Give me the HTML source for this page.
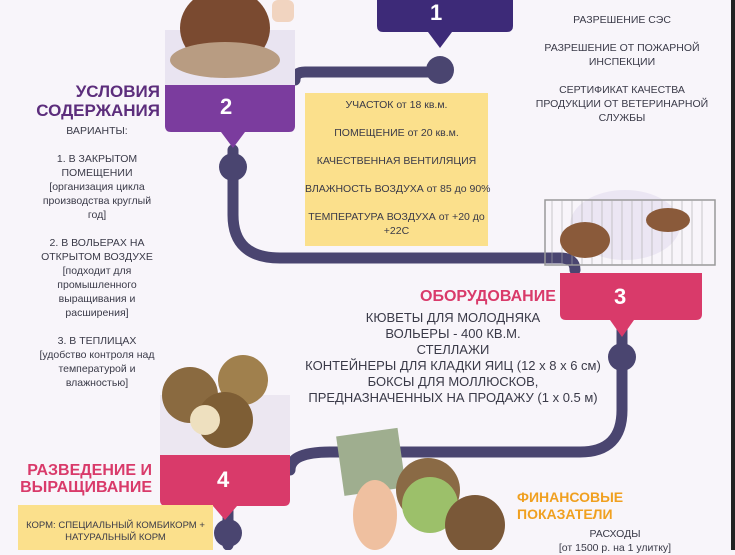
<!DOCTYPE html>
<html><head><meta charset="utf-8"><style>
body{margin:0;width:735px;height:550px;overflow:hidden;background:#f8f5fa;font-family:"Liberation Sans","Noto Sans CJK SC",sans-serif;position:relative}
.t{position:absolute;text-align:center;color:#3a3a48;font-size:10.5px;line-height:14px;white-space:nowrap}
.h{position:absolute;font-weight:bold;font-size:16px;line-height:17px;white-space:nowrap}
</style></head><body>
<svg width="735" height="550" style="position:absolute;left:0;top:0">
<rect x="731" y="0" width="4" height="550" fill="#222"/>
<g fill="none" stroke="#4a4570" stroke-width="11" stroke-linecap="round">
<path d="M295 80 Q295 72 305 72 L440 72"/>
<path d="M233 150 L233 215 Q233 258 280 258 L560 258 Q575 258 575 270"/>
<path d="M622 320 L622 410 Q622 452 580 452 L330 452 Q290 452 290 470"/>
<path d="M228 505 L228 545"/>
</g>
<circle cx="440" cy="70" r="14" fill="#4a4570"/>
<circle cx="233" cy="167" r="14" fill="#4a4570"/>
<circle cx="622" cy="357" r="14" fill="#4a4570"/>
<circle cx="228" cy="533" r="14" fill="#4a4570"/>
<path d="M377 0 H513 V26 Q513 32 507 32 H452 L440 48 L428 32 H383 Q377 32 377 26 Z" fill="#3d2a78"/>
<rect x="165" y="30" width="130" height="55" fill="#e9e4f1"/>
<ellipse cx="225" cy="28" rx="45" ry="40" fill="#7a4a30"/>
<ellipse cx="225" cy="60" rx="55" ry="18" fill="#b89c82"/>
<rect x="272" y="0" width="22" height="22" rx="6" fill="#f1d4c0"/>
<path d="M165 85 H295 V126 Q295 132 289 132 H245 L233 148 L221 132 H171 Q165 132 165 126 Z" fill="#7b3c9e"/>
<rect x="305" y="93" width="183" height="153" fill="#fbe08c"/>
<ellipse cx="625" cy="225" rx="55" ry="35" fill="#ebe6f3"/>
<rect x="545" y="200" width="170" height="65" fill="none" stroke="#999" stroke-width="1.5"/>
<g stroke="#aaa" stroke-width="0.6"><path d="M552 200V265M562 200V265M572 200V265M582 200V265M592 200V265M602 200V265M612 200V265M622 200V265M632 200V265M642 200V265M652 200V265M662 200V265M672 200V265M682 200V265M692 200V265M702 200V265"/></g>
<ellipse cx="585" cy="240" rx="25" ry="18" fill="#8a5a3a"/>
<ellipse cx="668" cy="220" rx="22" ry="12" fill="#8a5a3a"/>
<path d="M560 273 H702 V314 Q702 320 696 320 H634 L622 337 L610 320 H566 Q560 320 560 314 Z" fill="#d93a6a"/>
<rect x="160" y="395" width="130" height="65" fill="#ece7f1"/>
<circle cx="190" cy="395" r="28" fill="#8a6a40"/>
<circle cx="243" cy="380" r="25" fill="#a0804d"/>
<circle cx="225" cy="420" r="28" fill="#7e5e35"/>
<circle cx="205" cy="420" r="15" fill="#eee0bf"/>
<path d="M160 455 H290 V500 Q290 506 284 506 H237 L225 520 L213 506 H166 Q160 506 160 500 Z" fill="#d93a6a"/>
<rect x="18" y="505" width="195" height="45" fill="#fbe08c"/>
<rect x="340" y="432" width="62" height="60" fill="#9fae8f" transform="rotate(-8 370 462)"/>
<circle cx="428" cy="490" r="32" fill="#8a6a45"/>
<circle cx="430" cy="505" r="28" fill="#9cc06a"/>
<ellipse cx="375" cy="515" rx="22" ry="35" fill="#efc0a0"/>
<circle cx="475" cy="525" r="30" fill="#7a5838"/>
</svg>
<div style="position:absolute;left:430px;top:0;color:#fff;font-weight:bold;font-size:22px">1</div>
<div style="position:absolute;left:220px;top:94px;color:#fff;font-weight:bold;font-size:22px">2</div>
<div style="position:absolute;left:614px;top:284px;color:#fff;font-weight:bold;font-size:22px">3</div>
<div style="position:absolute;left:217px;top:467px;color:#fff;font-weight:bold;font-size:22px">4</div>
<div class="h" style="right:575px;top:82px;text-align:right;color:#5c2d7c;font-size:17px;line-height:19px">УСЛОВИЯ<br>СОДЕРЖАНИЯ</div>
<div class="t" style="left:22px;top:124px;width:150px">ВАРИАНТЫ:<br><br>1. В ЗАКРЫТОМ<br>ПОМЕЩЕНИИ<br>[организация цикла<br>производства круглый<br>год]<br><br>2. В ВОЛЬЕРАХ НА<br>ОТКРЫТОМ ВОЗДУХЕ<br>[подходит для<br>промышленного<br>выращивания и<br>расширения]<br><br>3. В ТЕПЛИЦАХ<br>[удобство контроля над<br>температурой и<br>влажностью]</div>
<div class="t" style="left:305px;top:98px;width:183px">УЧАСТОК от 18 кв.м.<br><br>ПОМЕЩЕНИЕ от 20 кв.м.<br><br>КАЧЕСТВЕННАЯ ВЕНТИЛЯЦИЯ<br><br>ВЛАЖНОСТЬ ВОЗДУХА от 85 до 90%<br><br>ТЕМПЕРАТУРА ВОЗДУХА от +20 до<br>+22С</div>
<div class="t" style="left:522px;top:13px;width:200px">РАЗРЕШЕНИЕ СЭС<br><br>РАЗРЕШЕНИЕ ОТ ПОЖАРНОЙ<br>ИНСПЕКЦИИ<br><br>СЕРТИФИКАТ КАЧЕСТВА<br>ПРОДУКЦИИ ОТ ВЕТЕРИНАРНОЙ<br>СЛУЖБЫ</div>
<div class="h" style="left:420px;top:288px;color:#d93a6a">ОБОРУДОВАНИЕ</div>
<div class="t" style="left:253px;top:310px;width:400px;font-size:13px;line-height:16px">КЮВЕТЫ ДЛЯ МОЛОДНЯКА<br>ВОЛЬЕРЫ - 400 КВ.М.<br>СТЕЛЛАЖИ<br>КОНТЕЙНЕРЫ ДЛЯ КЛАДКИ ЯИЦ (12 x 8 x 6 см)<br>БОКСЫ ДЛЯ МОЛЛЮСКОВ,<br>ПРЕДНАЗНАЧЕННЫХ НА ПРОДАЖУ (1 x 0.5 м)</div>
<div class="h" style="right:583px;top:462px;text-align:right;color:#d93a6a">РАЗВЕДЕНИЕ И<br>ВЫРАЩИВАНИЕ</div>
<div class="t" style="left:18px;top:520px;width:195px;font-size:9.5px;line-height:12px">КОРМ: СПЕЦИАЛЬНЫЙ КОМБИКОРМ +<br>НАТУРАЛЬНЫЙ КОРМ</div>
<div class="h" style="left:517px;top:489px;color:#f0a020;font-size:14px">ФИНАНСОВЫЕ<br>ПОКАЗАТЕЛИ</div>
<div class="t" style="left:540px;top:527px;width:150px">РАСХОДЫ<br>[от 1500 р. на 1 улитку]</div>
</body></html>
